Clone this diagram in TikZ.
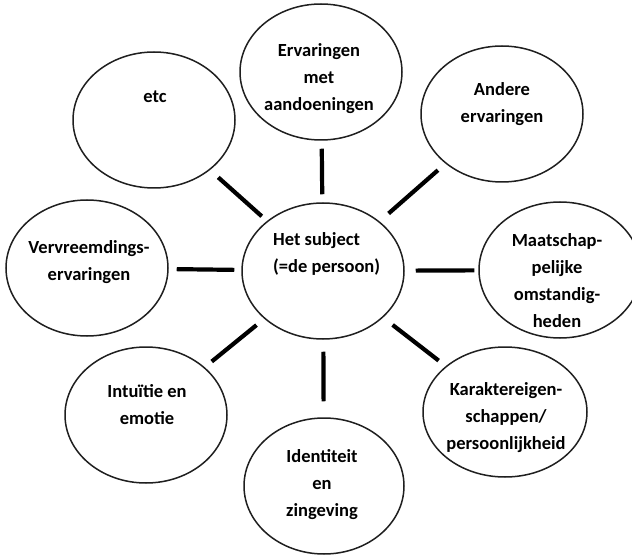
\documentclass[tikz,border=0pt]{standalone}
\usepackage{fontspec}
\setmainfont{Carlito}
\usetikzlibrary{shapes.geometric}
\begin{document}
\begin{tikzpicture}[x=1pt,y=-1pt,
  bubble/.style={ellipse, draw=black!88, line width=1.5pt, inner sep=0pt,
                 minimum width=162pt, minimum height=136pt},
  txt/.style={font=\fontsize{18.5}{27}\selectfont\bfseries, align=center, inner sep=0pt},
  link/.style={line width=4.2pt}]
\clip (0,0) rectangle (632,556);

% the ellipses
\node[bubble] (c)   at (323,271) {};
\node[bubble] (top) at (321,72)  {};
\node[bubble] (etc) at (154,120) {};
\node[bubble] (and) at (502,114) {};
\node[bubble] (lft) at (87,268)  {};
\node[bubble] (rgt) at (560,270) {};
\node[bubble] (itu) at (146,415) {};
\node[bubble, minimum width=164pt, minimum height=130pt] (kar) at (505,412) {};
\node[bubble, minimum width=160pt] (idn) at (324,486) {};

% the texts inside them
\node[txt, align=left, anchor=west] (c-t) at (273,254) {Het subject\\(=de persoon)};
\node[txt] (top-t) at (319,79)  {Ervaringen\\met\\aandoeningen};
\node[txt] (etc-t) at (155,97)  {etc};
\node[txt] (and-t) at (502,104) {Andere\\ervaringen};
\node[txt] (lft-t) at (89,262)  {Vervreemdings-\\ervaringen};
\node[txt] (rgt-t) at (557,281) {Maatschap-\\pelijke\\omstandig-\\heden};
\node[txt] (itu-t) at (147,405) {Intuïtie en\\emotie};
\node[txt] (kar-t) at (506,418) {Karaktereigen-\\schappen/\\persoonlijkheid};
\node[txt] (idn-t) at (322,485) {Identiteit\\en\\zingeving};

% the spokes from the subject
\draw[link, shorten <=8pt,  shorten >=8pt]  (c) -- (top);
\draw[link, shorten <=7pt,  shorten >=11pt] (c) -- (etc);
\draw[link, shorten <=12pt, shorten >=10pt] (c) -- (and);
\draw[link, shorten <=7pt,  shorten >=8pt]  (c) -- (lft);
\draw[link, shorten <=11pt, shorten >=4pt]  (c) -- (rgt);
\draw[link, shorten <=10pt, shorten >=9pt]  (c) -- (itu);
\draw[link, shorten <=12pt, shorten >=9pt]  (c) -- (kar);
\draw[link, shorten <=12pt, shorten >=16pt] (c) -- (idn);
\end{tikzpicture}
\end{document}
